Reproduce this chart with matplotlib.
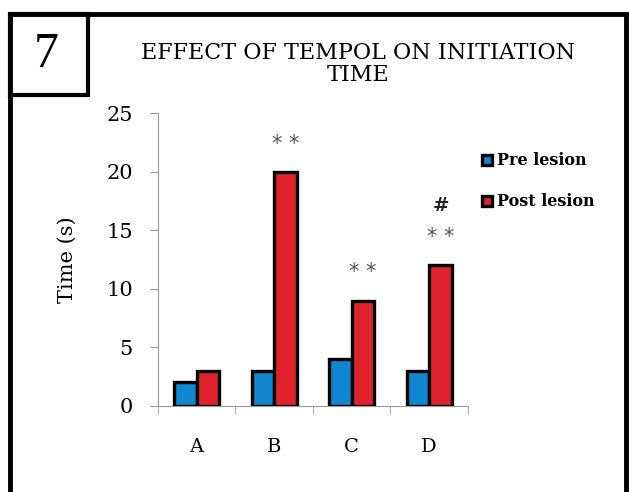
import numpy as np
import matplotlib.pyplot as plt
from matplotlib.patches import Rectangle

groups = ["A", "B", "C", "D"]
pre_lesion = [2, 3, 4, 3]
post_lesion = [3, 20, 9, 12]
stars = ["", "**", "**", "**"]
hashes = ["", "", "", "#"]

plt.rcParams["font.family"] = ["DejaVu Serif", "Liberation Serif"]

fig = plt.figure(figsize=(6.29, 4.92), dpi=100)
ax = fig.add_axes([0.251, 0.175, 0.493, 0.595])

x = np.arange(len(groups))
w = 0.29
ax.bar(x - w / 2, pre_lesion, w, color="#0f86cf", edgecolor="black", linewidth=2.4,
       label="Pre lesion", zorder=3)
ax.bar(x + w / 2, post_lesion, w, color="#e0222c", edgecolor="black", linewidth=2.4,
       label="Post lesion", zorder=3)

# significance marks above the post-lesion bars
for i, (s, h) in enumerate(zip(stars, hashes)):
    top = post_lesion[i]
    if s:
        ax.text(x[i] + w / 2, top + 2.4, s.replace("*", "* ").strip(), ha="center",
                va="center", fontsize=15, color="#555555", family="DejaVu Sans")
    if h:
        ax.text(x[i] + w / 2, top + 5.1, h, ha="center", va="center", fontsize=14,
                color="#222222", fontweight="bold")

ax.set_xlim(-0.5, 3.5)
ax.set_ylim(0, 25)
ax.set_yticks(range(0, 26, 5))
ax.set_xticks(x)
ax.set_xticklabels(groups, fontsize=14)
ax.set_xticks(np.arange(-0.5, 4.0, 1.0), minor=True)
ax.tick_params(axis="x", which="major", length=0, pad=23)
ax.tick_params(axis="x", which="minor", length=6, color="#999999", direction="out")
ax.tick_params(axis="y", labelsize=15, length=6, color="#999999", pad=12)
for side in ["top", "right"]:
    ax.spines[side].set_visible(False)
for side in ["left", "bottom"]:
    ax.spines[side].set_color("#999999")
ax.set_ylabel("Time (s)", fontsize=15, labelpad=21)

leg = ax.legend(loc="upper left", bbox_to_anchor=(1.0, 0.915), frameon=False,
                handlelength=0.6, handleheight=0.6, handletextpad=0.3,
                labelspacing=1.5, prop={"weight": "bold", "size": 11.5})

fig.text(0.569, 0.87, "EFFECT OF TEMPOL ON INITIATION\nTIME", ha="center", va="center",
         fontsize=16, linespacing=1.0)

# outer frame and panel number box
fig.add_artist(Rectangle((10 / 629, -0.05), (626 - 10) / 629, 1.05 - 14 / 492,
                         transform=fig.transFigure, fill=False, linewidth=3.5,
                         edgecolor="black"))
fig.add_artist(Rectangle((10 / 629, 1 - 95 / 492), 78 / 629, 81 / 492,
                         transform=fig.transFigure, fill=False, linewidth=3.0,
                         edgecolor="black"))
fig.text(46 / 629, 1 - 55 / 492, "7", ha="center", va="center", fontsize=36,
         family="Liberation Serif")

fig.savefig("out.png", dpi=100)
